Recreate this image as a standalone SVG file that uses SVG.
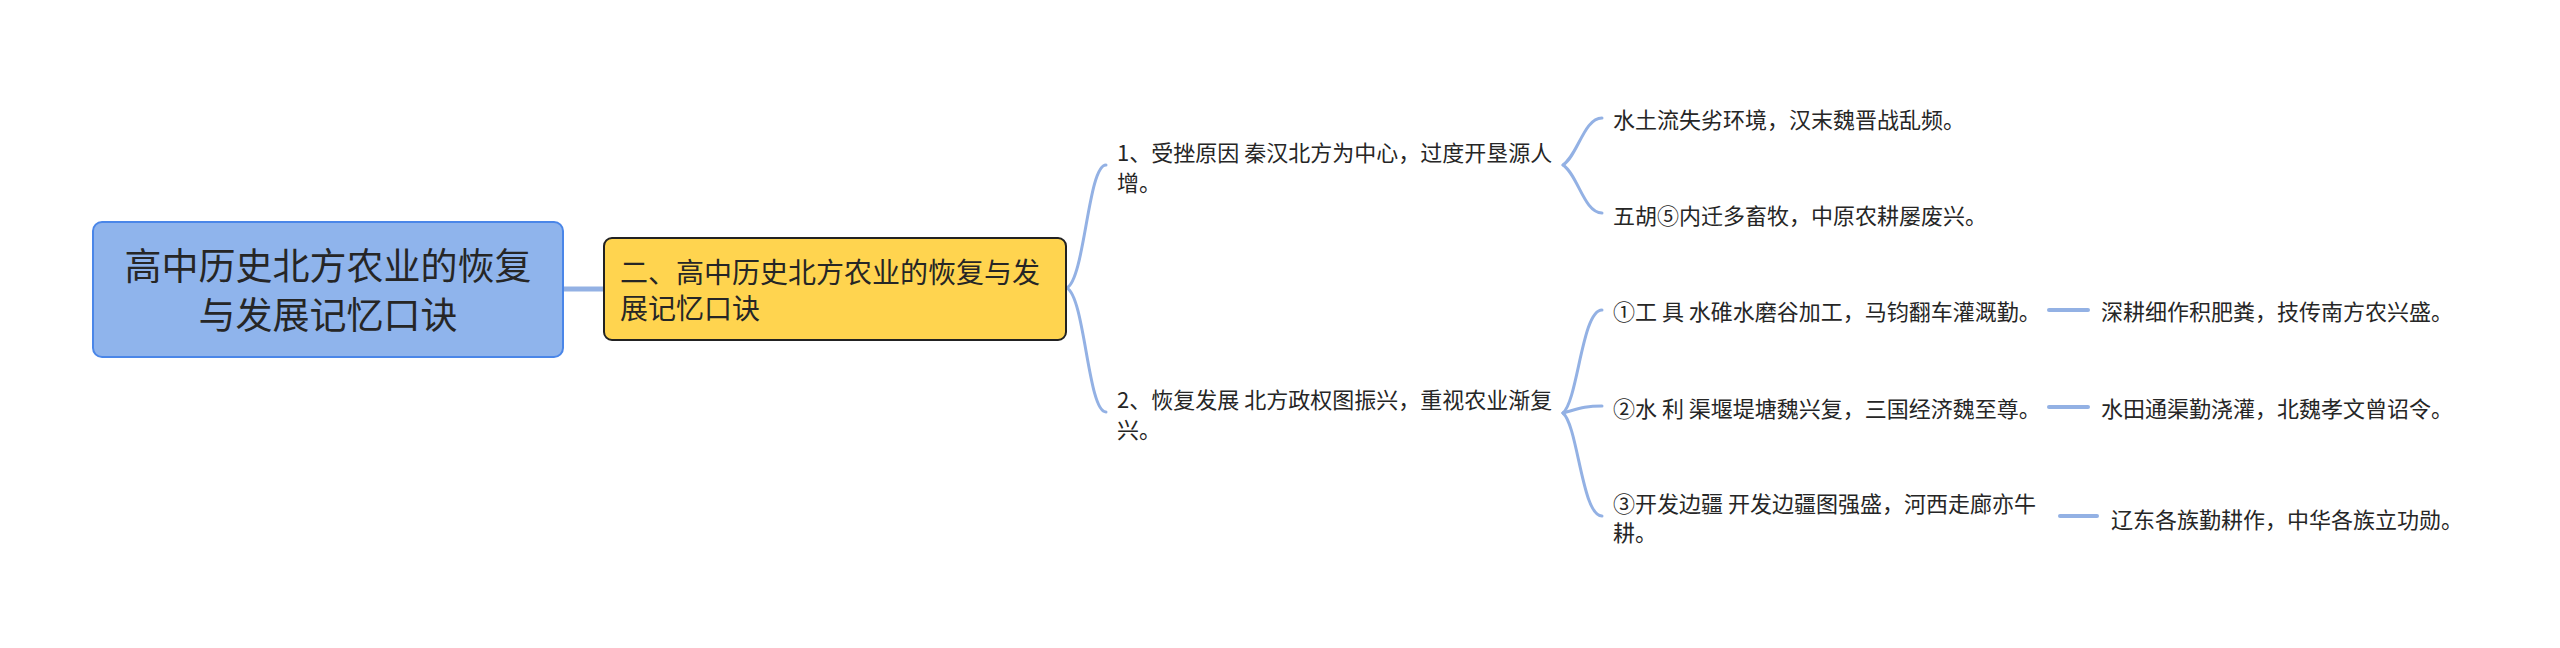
<svg xmlns="http://www.w3.org/2000/svg" width="2560" height="648" viewBox="0 0 2560 648">
  <style>
    text { font-family: "Noto Sans CJK SC", "Noto Sans", sans-serif; fill: #262626; dominant-baseline: central; }
    .root-t { font-size: 37px; text-anchor: middle; }
    .sub-t { font-size: 28px; }
    .t { font-size: 22px; }
    .conn { fill: none; stroke: #93b1e4; stroke-linecap: round; }
  </style>
  <rect width="2560" height="648" fill="#ffffff"/>
  <g id="connectors">
    <path class="conn" d="M 563 289 L 604 289" stroke-width="5"/>
    <path class="conn" d="M 1067 288 C 1085 278, 1088 165, 1106 165" stroke-width="3"/>
    <path class="conn" d="M 1067 288 C 1085 298, 1088 412, 1106 412" stroke-width="3"/>
    <path class="conn" d="M 1563 165 C 1578 155, 1584 118, 1602 118" stroke-width="3"/>
    <path class="conn" d="M 1563 165 C 1578 175, 1584 213, 1602 213" stroke-width="3"/>
    <path class="conn" d="M 1563 413 C 1578 400, 1582 310, 1602 310" stroke-width="3"/>
    <path class="conn" d="M 1563 413 C 1578 409, 1584 406, 1602 406" stroke-width="3"/>
    <path class="conn" d="M 1563 413 C 1578 426, 1582 516, 1602 516" stroke-width="3"/>
    <path class="conn" d="M 2049 310 L 2088 310" stroke-width="4"/>
    <path class="conn" d="M 2049 407 L 2088 407" stroke-width="4"/>
    <path class="conn" d="M 2060 516 L 2097 516" stroke-width="4"/>
  </g>
  <g id="root">
    <rect x="93" y="222" width="470" height="135" rx="9" fill="#8fb4ec" stroke="#4a86e8" stroke-width="2"/>
    <text class="root-t" x="328" y="264">高中历史北方农业的恢复</text>
    <text class="root-t" x="328" y="313">与发展记忆口诀</text>
  </g>
  <g id="subject">
    <rect x="604" y="238" width="462" height="102" rx="8" fill="#ffd44f" stroke="#222222" stroke-width="2"/>
    <text class="sub-t" x="620" y="271">二、高中历史北方农业的恢复与发</text>
    <text class="sub-t" x="620" y="307">展记忆口诀</text>
  </g>
  <g id="node-1">
    <text class="t" x="1117" y="151">1、受挫原因 秦汉北方为中心，过度开垦源人</text>
    <text class="t" x="1117" y="181">增。</text>
  </g>
  <g id="node-2">
    <text class="t" x="1117" y="398">2、恢复发展 北方政权图振兴，重视农业渐复</text>
    <text class="t" x="1117" y="428">兴。</text>
  </g>
  <g id="node-1-1">
    <text class="t" x="1613" y="118">水土流失劣环境，汉末魏晋战乱频。</text>
  </g>
  <g id="node-1-2">
    <text class="t" x="1613" y="214">五胡⑤内迁多畜牧，中原农耕屡废兴。</text>
  </g>
  <g id="node-2-1">
    <text class="t" x="1613" y="310">①工 具 水碓水磨谷加工，马钧翻车灌溉勤。</text>
  </g>
  <g id="node-2-2">
    <text class="t" x="1613" y="407">②水 利 渠堰堤塘魏兴复，三国经济魏至尊。</text>
  </g>
  <g id="node-2-3">
    <text class="t" x="1613" y="502">③开发边疆 开发边疆图强盛，河西走廊亦牛</text>
    <text class="t" x="1613" y="531">耕。</text>
  </g>
  <g id="node-2-1-1">
    <text class="t" x="2101" y="310">深耕细作积肥粪，技传南方农兴盛。</text>
  </g>
  <g id="node-2-2-1">
    <text class="t" x="2101" y="407">水田通渠勤浇灌，北魏孝文曾诏令。</text>
  </g>
  <g id="node-2-3-1">
    <text class="t" x="2111" y="518">辽东各族勤耕作，中华各族立功勋。</text>
  </g>
</svg>
